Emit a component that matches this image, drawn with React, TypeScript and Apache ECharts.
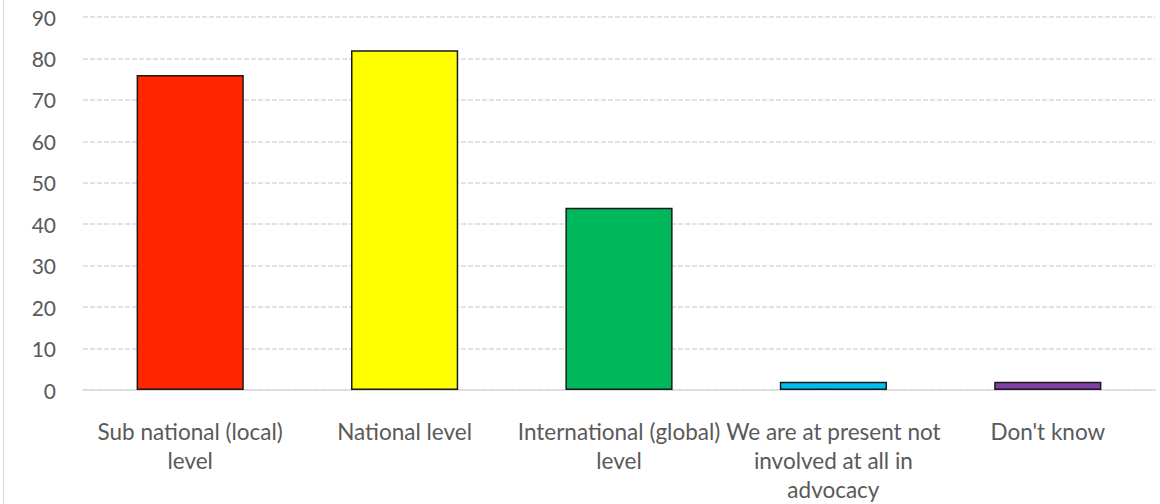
import React, { useEffect, useRef } from "react";
import * as echarts from "echarts";

const categories = [
  "Sub national (local)\nlevel",
  "National level",
  "International (global)\nlevel",
  "We are at present not\ninvolved at all in\nadvocacy",
  "Don't know",
];
const values = [76, 82, 44, 2, 2];
const barColors = ["#ff2600", "#ffff00", "#00b85c", "#00bff0", "#8040a8"];
const yTicks = { min: 0, max: 90, interval: 10 };

export default function App() {
  const ref = useRef<HTMLDivElement>(null);
  useEffect(() => {
    document.body.style.margin = "0";
    const chart = echarts.init(ref.current!, undefined, { renderer: "svg" });
    chart.setOption({
      animation: false,
      backgroundColor: "#ffffff",
      textStyle: { fontFamily: "Lato" },
      grid: { left: 83, right: 5, top: 17, bottom: 114, containLabel: false },
      graphic: [
        {
          type: "line",
          shape: { x1: 3.5, y1: 0, x2: 3.5, y2: 504 },
          style: { stroke: "#d9d9d9", lineWidth: 1 },
        },
      ],
      xAxis: {
        type: "category",
        data: categories,
        axisLine: { show: true, lineStyle: { color: "#d9d9d9", width: 1.5 } },
        axisTick: { show: false },
        axisLabel: {
          color: "#595959",
          fontSize: 22.5,
          fontFamily: "Lato",
          lineHeight: 29,
          margin: 27,
          interval: 0,
        },
      },
      yAxis: {
        type: "value",
        min: yTicks.min,
        max: yTicks.max,
        interval: yTicks.interval,
        axisLine: { show: false },
        axisTick: { show: false },
        axisLabel: {
          color: "#595959",
          fontSize: 21,
          fontFamily: "Lato",
          margin: 27,
        },
        splitLine: {
          lineStyle: { color: "#d9d9d9", type: [5, 2], width: 1.5 },
        },
      },
      series: [
        {
          type: "bar",
          data: values.map((v, i) => ({
            value: v,
            itemStyle: { color: barColors[i] },
          })),
          barWidth: "50%",
          itemStyle: { borderColor: "#1a1a1a", borderWidth: 1.5 },
        },
      ],
    });
    return () => chart.dispose();
  }, []);
  return <div ref={ref} style={{ width: 1160, height: 504 }} />;
}
